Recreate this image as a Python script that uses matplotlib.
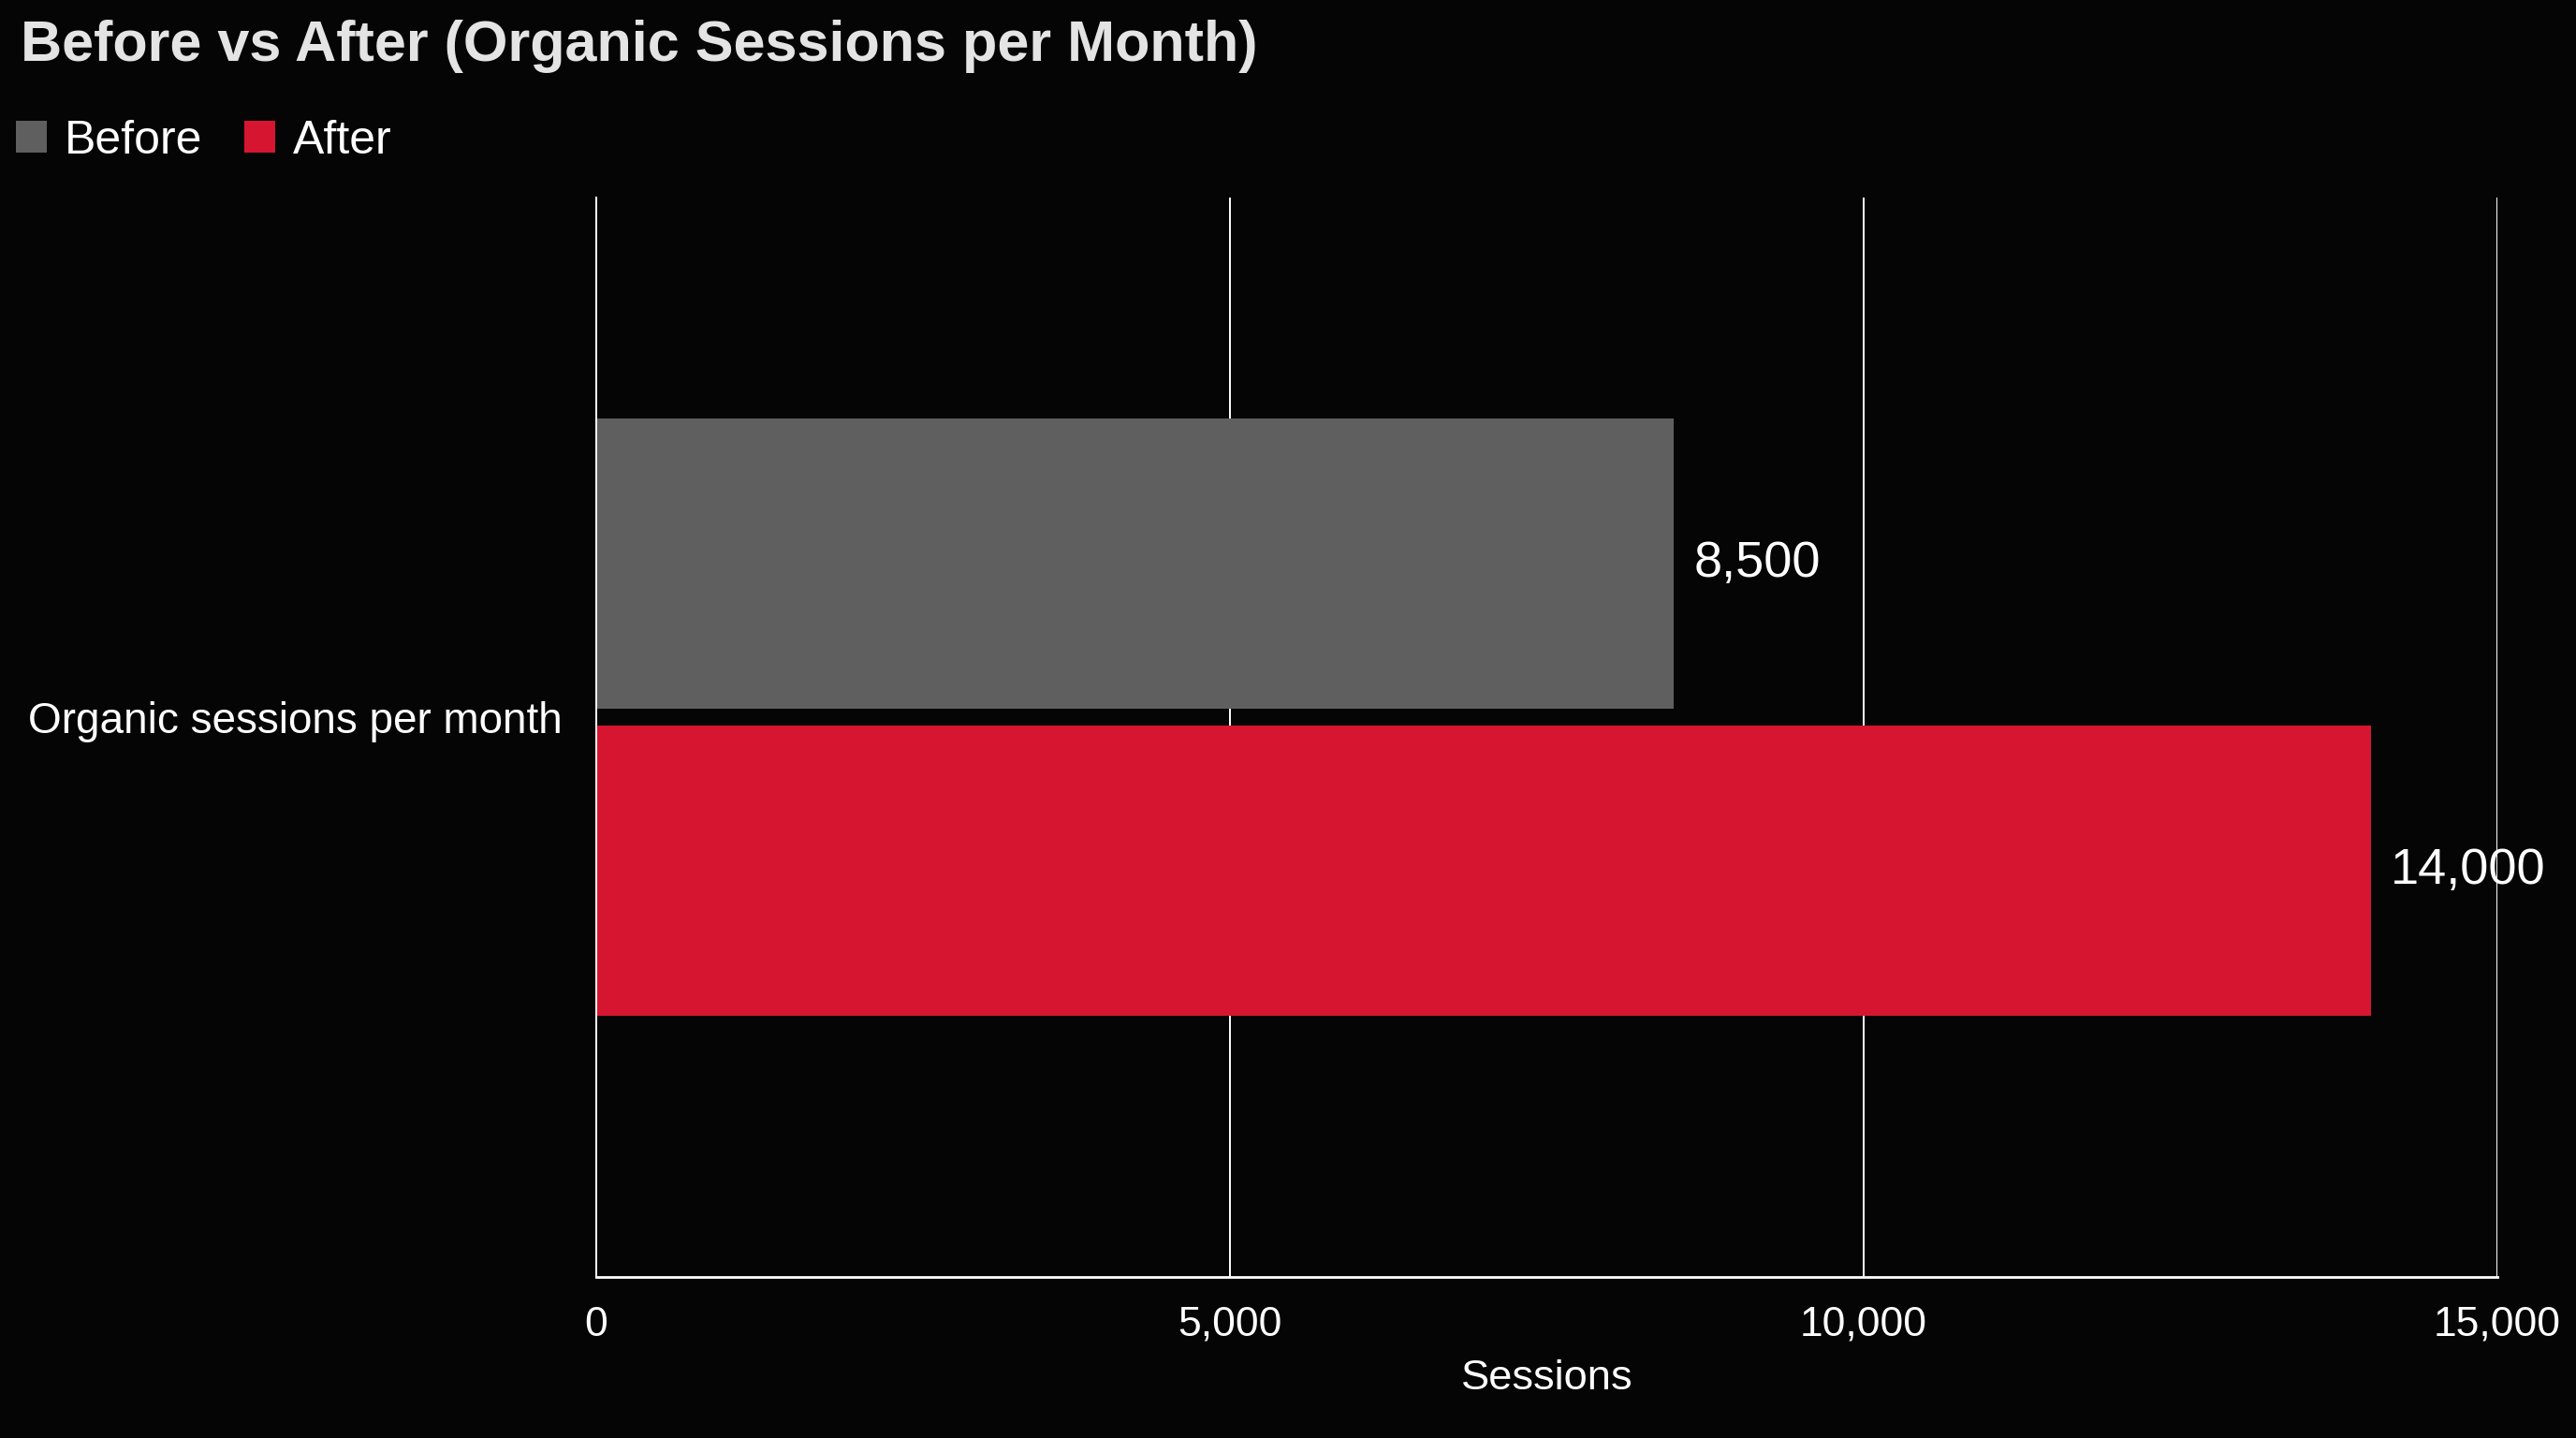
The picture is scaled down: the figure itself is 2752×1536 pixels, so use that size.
import matplotlib
matplotlib.use("Agg")
import matplotlib.pyplot as plt
from matplotlib.ticker import FuncFormatter

plt.rcParams["font.family"] = ["Liberation Sans", "DejaVu Sans"]

# data
category = ["Organic sessions per month"]
series = ["Before", "After"]
values = [8500, 14000]
colors = ["#5f5f5f", "#d61630"]
x_ticks = [0, 5000, 10000, 15000]

bg = "#050505"
fig = plt.figure(figsize=(13.76, 7.68), dpi=200, facecolor=bg)
ax = fig.add_axes([0.2315, 0.112, 0.738, 0.7506], facecolor=bg)

offsets = [-0.2, 0.2]
bar_h = 0.378
for name, val, col, off in zip(series, values, colors, offsets):
    ax.barh(0 + off, val, height=bar_h, color=col, label=name, zorder=2)
    ax.text(val + 160, 0 + off, f"{val:,}", color="white", fontsize=19.5,
            va="center", ha="left", zorder=3)

ax.set_ylim(0.729, -0.677)
ax.set_xlim(0, 15000)
ax.set_yticks([0])
ax.set_yticklabels(category)
ax.set_xticks(x_ticks)
ax.xaxis.set_major_formatter(FuncFormatter(lambda v, p: f"{int(v):,}"))
ax.tick_params(axis="x", colors="white", labelsize=16, length=0, pad=11)
ax.tick_params(axis="y", colors="white", labelsize=16.5, length=0, pad=13)
ax.set_xlabel("Sessions", color="white", fontsize=16.3, labelpad=6)

ax.grid(axis="x", color="white", linewidth=0.7, zorder=1)
ax.set_axisbelow(True)
for s in ["top", "right"]:
    ax.spines[s].set_visible(False)
ax.spines["bottom"].set_color("white")
ax.spines["bottom"].set_linewidth(1.0)
ax.spines["left"].set_color("white")
ax.spines["left"].set_linewidth(0.7)

fig.text(0.008, 0.968, "Before vs After (Organic Sessions per Month)",
         color="#e4e4e4", fontsize=22, fontweight="bold", va="center", ha="left")

fig.legend(loc="center left", bbox_to_anchor=(0.006, 0.902), ncol=2,
           frameon=False, fontsize=18, labelcolor="white",
           handlelength=0.66, handleheight=0.66, handletextpad=0.38,
           columnspacing=0.9, borderpad=0, borderaxespad=0)

fig.savefig("out.png", dpi=200, facecolor=bg)
